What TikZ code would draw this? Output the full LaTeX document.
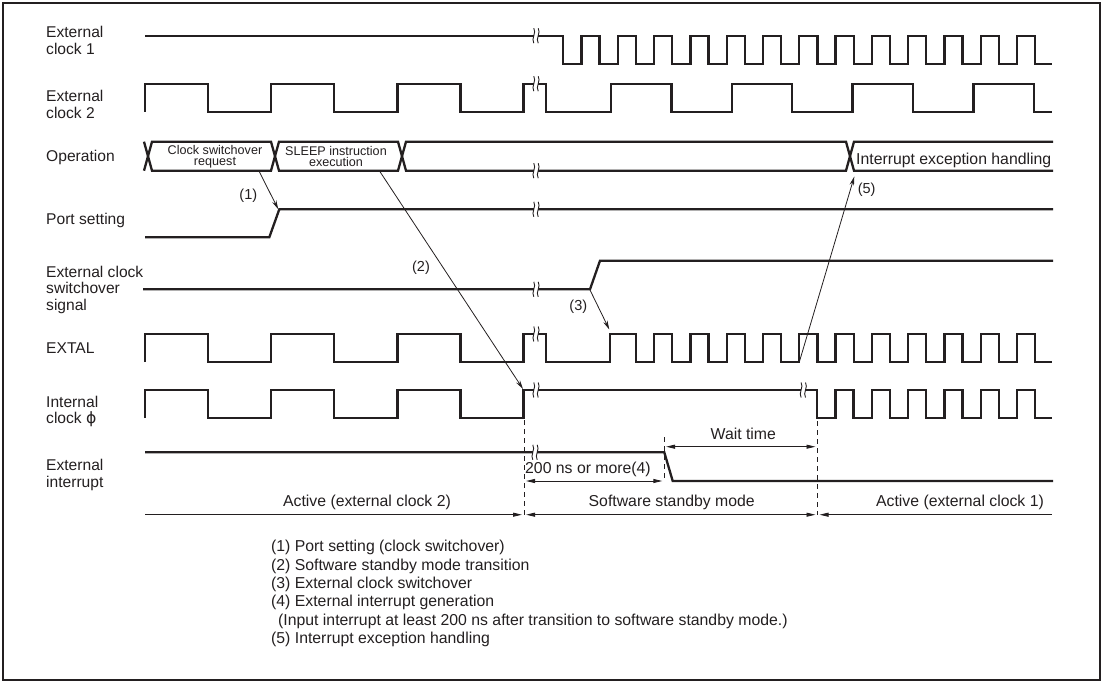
\documentclass[tikz,border=0pt]{standalone}
\usepackage{fontspec}
\setmainfont{Liberation Sans}
\newfontfamily\symfont{DejaVu Sans}
\usetikzlibrary{arrows.meta,positioning}
\definecolor{ink}{HTML}{231f20}
% break mark on a waveform: #1 = x, #2 = y
\newcommand{\gapmark}[2]{%
  \fill[white] (#1-2.2,#2-6) rectangle (#1+2.2,#2+6);
  \draw[ink,line width=0.9pt] (#1-2.2,#2-7.5) .. controls (#1+0.8,#2-3) and (#1-5.2,#2+3) .. (#1-2.2,#2+7.5)
    (#1+2.2,#2-7.5) .. controls (#1+5.2,#2-3) and (#1-0.8,#2+3) .. (#1+2.2,#2+7.5);}

\begin{document}
\begin{tikzpicture}[x=1pt,y=-1pt,
   sig/.style={ink,line width=2.3pt,line join=miter},
   a/.style={-{Stealth[length=9pt,width=4.5pt]},ink,line width=0.8pt},
   dim/.style={{Triangle[length=9pt,width=4pt]}-{Triangle[length=9pt,width=4pt]},ink,line width=0.9pt},
   t/.style={anchor=west,align=left,inner sep=0pt,font=\fontsize{15.6}{16.5}\selectfont,text=ink},
   s/.style={inner sep=0pt,font=\fontsize{15.8}{16.5}\selectfont,text=ink},
   op/.style={inner sep=0pt,align=center,font=\fontsize{12.6}{11.2}\selectfont,text=ink},
   vl/.style={ink,dash pattern=on 5pt off 4pt,line width=0.9pt}]
  \useasboundingbox (0,0) rectangle (1104,683);
  \draw[ink,line width=1.6pt] (3,3) rectangle (1100,680);

  % signal names
  \node[t] (c1) at (46,40.5)  {External\\clock 1};
  \node[t] (c2) at (46,104.5) {External\\clock 2};
  \node[t] (op) at (46,157)   {Operation};
  \node[t] (ps) at (46,220)   {Port setting};
  \node[t] (sw) at (46,289.5) {External clock\\switchover\\signal};
  \node[t] (ex) at (46,348)   {EXTAL};
  \node[t] (ic) at (46,411.5) {Internal\\clock {\symfont ϕ}};
  \node[t] (ei) at (46,475)   {External\\interrupt};

  % waveforms
  \draw[sig] (145,35.7) -- (563.3,35.7) -- ++(0,28)
    \foreach \k in {1,...,13}{ -- ++(18.15,0) -- ++(0,-28) -- ++(18.15,0) -- ++(0,28)} -- (1052,63.7);
  \draw[sig] (145,111.7) -- ++(0,-28)
    \foreach \k in {1,2,3}{ -- ++(63.1,0) -- ++(0,28) -- ++(63.1,0) -- ++(0,-28)}
    -- (545.7,83.7) -- ++(0,28) -- (611,111.7)
    \foreach \k in {1,2,3}{ -- ++(0,-28) -- ++(60.4,0) -- ++(0,28) -- ++(60.4,0)}
    -- ++(0,-28) -- ++(60.4,0) -- ++(0,28) -- (1052,111.7);
  \draw[sig] (144,141.7) -- (152,170.7) -- (271,170.7) -- (279,141.7) -- (398,141.7) -- (406,170.7)
    -- (846,170.7) -- (854,141.7) -- (1053,141.7);
  \draw[sig] (144,170.7) -- (152,141.7) -- (271,141.7) -- (279,170.7) -- (398,170.7) -- (406,141.7)
    -- (846,141.7) -- (854,170.7) -- (1053,170.7);
  \draw[sig] (145,237.3) -- (269.3,237.3) -- (279.3,209.3) -- (1053,209.3);
  \draw[sig] (143,289.3) -- (590,289.3) -- (600,260.7) -- (1053,260.7);
  \draw[sig] (145,362) -- ++(0,-28)
    \foreach \k in {1,2,3}{ -- ++(63.1,0) -- ++(0,28) -- ++(63.1,0) -- ++(0,-28)}
    -- (545.7,334) -- ++(0,28) -- (610,362) -- ++(0,-28) -- (635.9,334) -- ++(0,28)
    \foreach \k in {1,...,11}{ -- ++(18.15,0) -- ++(0,-28) -- ++(18.15,0) -- ++(0,28)} -- (1052,362);
  \draw[sig] (145,418) -- ++(0,-28)
    \foreach \k in {1,2,3}{ -- ++(63.1,0) -- ++(0,28) -- ++(63.1,0) -- ++(0,-28)}
    -- (817.3,390) -- ++(0,28)
    \foreach \k in {1,...,6}{ -- ++(18.15,0) -- ++(0,-28) -- ++(18.15,0) -- ++(0,28)} -- (1052,418);
  \draw[sig] (145,452.3) -- (664.3,452.3) -- (672.7,481) -- (1053,481);

  % breaks
  \gapmark{536}{35.7}
  \gapmark{536}{83.7}
  \gapmark{536}{170.7}
  \gapmark{536}{209.3}
  \gapmark{536}{289.3}
  \gapmark{536}{334}
  \gapmark{536}{390}
  \gapmark{803.3}{390}
  \gapmark{535}{452.3}

  % bus contents
  \node[op] (req) at (215,156.5) {Clock switchover\\request};
  \node[op] (slp) at (336,156.5) {SLEEP instruction\\execution};
  \node[s,anchor=west] (ieh) at (856,160) {Interrupt exception handling};

  % cause and effect
  \coordinate (q1) at (259.3,171.7); \coordinate (p1) at (278.3,209.3);
  \coordinate (q2) at (380,171.7);   \coordinate (p2) at (523,389);
  \coordinate (q3) at (590,290);     \coordinate (p3) at (609.3,329.5);
  \coordinate (q5) at (799.3,362);   \coordinate (p5) at (854.3,176.5);
  \draw[a] (q1) -- (p1);
  \draw[a] (q2) -- (p2);
  \draw[a] (q3) -- (p3);
  \draw[a] (q5) -- (p5);
  \node[s,font=\fontsize{14.5}{15}\selectfont] (n1) at (248.3,196) {(1)};
  \node[s,font=\fontsize{14.5}{15}\selectfont] (n2) at (421,268) {(2)};
  \node[s,font=\fontsize{14.5}{15}\selectfont] (n3) at (578.3,306.7) {(3)};
  \node[s,font=\fontsize{14.5}{15}\selectfont] (n5) at (866.7,189.3) {(5)};

  % timing marks
  \coordinate (d1t) at (524,420);   \coordinate (d1b) at (524,515);
  \coordinate (d2t) at (664.3,437); \coordinate (d2b) at (664.3,478);
  \coordinate (d3t) at (817.3,421); \coordinate (d3b) at (817.3,515);
  \draw[vl] (d1t) -- (d1b);
  \draw[vl] (d2t) -- (d2b);
  \draw[vl] (d3t) -- (d3b);
  \coordinate (w0) at (666,446.7);  \coordinate (w1) at (815.5,446.7);
  \coordinate (r0) at (526,481);    \coordinate (r1) at (662.3,481);
  \draw[dim] (w0) -- (w1);
  \draw[dim] (r0) -- (r1);
  \node[s] (wt) at (743.3,434) {Wait time};
  \node[s,anchor=west] (rt) at (525,469) {200 ns or more(4)};

  % modes
  \coordinate (m0) at (145,514.7);  \coordinate (m1) at (522,514.7);
  \coordinate (m2) at (526,514.7);  \coordinate (m3) at (815.5,514.7);
  \coordinate (m4) at (819.5,514.7); \coordinate (m5) at (1052,514.7);
  \draw[ink,line width=0.9pt,-{Triangle[length=9pt,width=4pt]}] (m0) -- (m1);
  \draw[dim] (m2) -- (m3);
  \draw[ink,line width=0.9pt,{Triangle[length=9pt,width=4pt]}-] (m4) -- (m5);
  \node[s] (ma) at (367,502.5) {Active (external clock 2)};
  \node[s] (mb) at (671.7,502.3) {Software standby mode};
  \node[s] (mc) at (960,502.3) {Active (external clock 1)};

  % notes
  \node[t,font=\fontsize{15.8}{18.3}\selectfont] (notes) at (271,593.5) {(1) Port setting (clock switchover)\\
    (2) Software standby mode transition\\
    (3) External clock switchover\\
    (4) External interrupt generation\\
    \hspace*{7pt}(Input interrupt at least 200 ns after transition to software standby mode.)\\
    (5) Interrupt exception handling};
\end{tikzpicture}
\end{document}
